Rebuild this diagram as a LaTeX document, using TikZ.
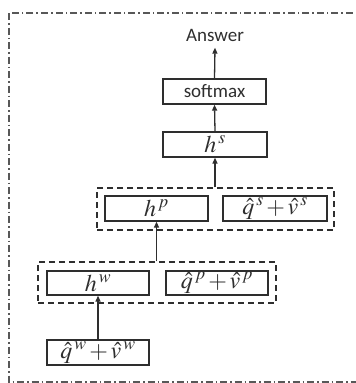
\documentclass[tikz,border=0pt]{standalone}
\usepackage{mathptmx}
\usepackage{fontspec}
\setmainfont{Carlito}
\usetikzlibrary{arrows.meta}
\definecolor{ink}{HTML}{2E2E2E}
\newcommand{\qv}[1]{$\hat{q}^{\,#1}\,{+}\,\hat{v}^{\,#1}$}
\begin{document}
\begin{tikzpicture}[x=1pt,y=-1pt,
  every node/.style={text=ink},
  blk/.style={draw=ink,line width=1.3pt,rectangle,inner sep=0pt,minimum height=25pt},
  grp/.style={draw=ink,line width=1.3pt,rectangle,inner sep=0pt,dash pattern=on 6pt off 4pt},
  lbl/.style={font=\fontsize{19}{19}\selectfont},
  mth/.style={font=\fontsize{24}{24}\selectfont},
  arr/.style={draw=ink,line width=1.3pt,-{Triangle[length=6pt,width=5pt]}}]
\useasboundingbox (0,0) rectangle (356,383);
\draw[draw=ink!80,line width=1.1pt,dash pattern=on 7pt off 3pt on 1.5pt off 3pt] (9,13) rectangle (370,382);
\node[lbl] (ans) at (215,35) {Answer};
\node[blk,lbl,minimum width=103pt] (sm) at (214.5,91.5) {softmax};
\node[blk,mth,minimum width=104pt] (hs) at (215,144.5) {$h^{\,s}$};
\node[grp,minimum width=237pt,minimum height=42pt] (g2) at (215.5,209) {};
\node[blk,mth,minimum width=103pt] (hp) at (156.5,208.5) {$h^{\,p}$};
\node[blk,mth,minimum width=104pt] (qs) at (275,208.5) {\qv{s}};
\node[grp,minimum width=238pt,minimum height=41pt] (g1) at (157,282.5) {};
\node[blk,mth,minimum width=102pt,minimum height=24pt] (hw) at (98,283) {$h^{\,w}$};
\node[blk,mth,minimum width=102pt,minimum height=24pt] (qp) at (217,283) {\qv{p}};
\node[blk,mth,minimum width=102pt] (qw) at (98,352.5) {\qv{w}};
\draw[arr] (qw.north) -- (hw.south);
\draw[arr] (g1.north -| hp.south) -- (hp.south);
\draw[arr] (g2.north -| hs.south) -- (hs.south);
\draw[arr] (hs.north) -- (sm.south);
\draw[arr] (sm.north) -- ([yshift=-3pt]ans.south);
\end{tikzpicture}
\end{document}
